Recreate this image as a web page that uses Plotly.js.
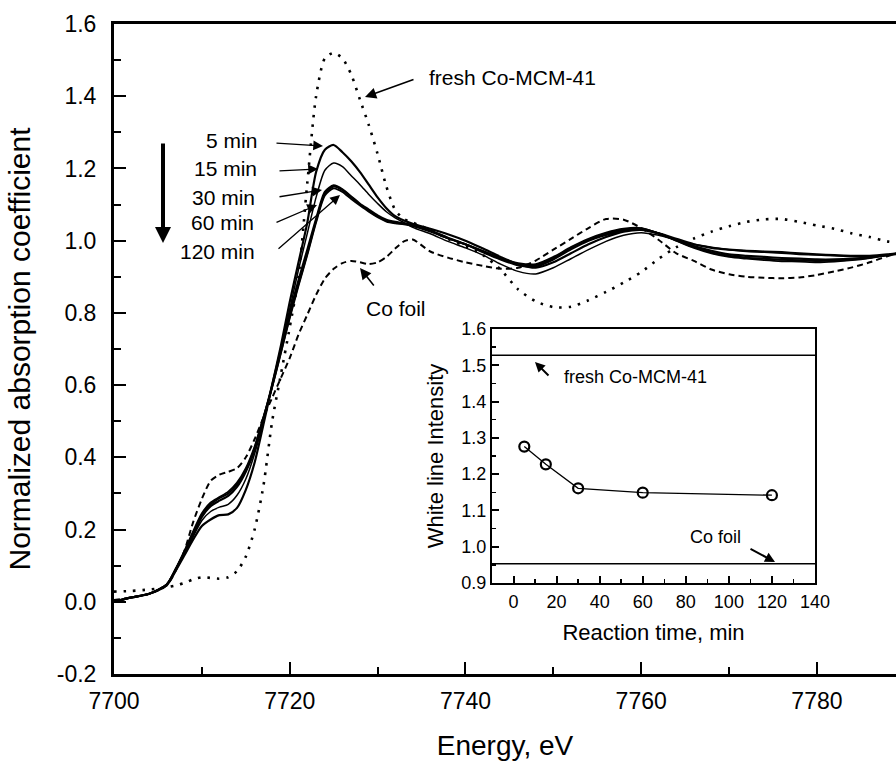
<!DOCTYPE html>
<html>
<head>
<meta charset="utf-8">
<script src="https://cdn.plot.ly/plotly-3.0.1.min.js"></script>
<style>html,body{margin:0;padding:0;background:#fff;}#chart{width:896px;height:761px;}</style>
</head>
<body>
<div id="chart"></div>
<script>
// ---------- data ----------
const energy = [7700,7702,7704,7706,7707,7708,7709,7710,7711,7712,7713,7714,7715,7716,7717,7718,7719,7720,7721,7722,7723,7724,7725,7726,7727,7728,7729,7730,7731,7732,7733,7734,7736,7738,7740,7742,7744,7746,7748,7750,7752,7754,7756,7758,7760,7762,7764,7766,7768,7770,7772,7774,7776,7778,7780,7782,7784,7786,7788,7789];

const mu5min = [0.0,0.012,0.022,0.046,0.085,0.128,0.172,0.21,0.228,0.24,0.242,0.26,0.31,0.385,0.49,0.6,0.71,0.83,0.94,1.05,1.19,1.252,1.265,1.245,1.22,1.19,1.155,1.12,1.09,1.068,1.056,1.047,1.033,1.018,1.0,0.978,0.955,0.935,0.925,0.94,0.965,0.99,1.01,1.025,1.03,1.02,1.005,0.99,0.98,0.975,0.972,0.97,0.968,0.965,0.962,0.96,0.958,0.958,0.962,0.965];
const mu15min = [0.0,0.012,0.022,0.047,0.087,0.132,0.18,0.225,0.25,0.262,0.27,0.295,0.34,0.41,0.5,0.6,0.7,0.81,0.92,1.02,1.12,1.195,1.215,1.205,1.18,1.155,1.128,1.103,1.08,1.063,1.05,1.037,1.019,0.998,0.98,0.96,0.935,0.915,0.908,0.925,0.95,0.975,0.998,1.015,1.022,1.015,1.002,0.99,0.982,0.975,0.97,0.968,0.965,0.962,0.96,0.958,0.956,0.956,0.96,0.963];
const mu30min = [0.0,0.012,0.022,0.048,0.088,0.135,0.185,0.235,0.265,0.28,0.293,0.318,0.36,0.42,0.505,0.6,0.7,0.8,0.89,0.975,1.06,1.135,1.153,1.142,1.122,1.102,1.086,1.07,1.058,1.052,1.048,1.043,1.028,1.008,0.99,0.968,0.948,0.932,0.928,0.948,0.976,1.0,1.016,1.028,1.032,1.02,1.002,0.985,0.972,0.962,0.958,0.955,0.952,0.95,0.948,0.948,0.95,0.954,0.96,0.963];
const mu60min = [0.0,0.012,0.022,0.048,0.09,0.138,0.19,0.24,0.27,0.287,0.3,0.325,0.365,0.425,0.51,0.595,0.69,0.79,0.88,0.965,1.055,1.13,1.15,1.14,1.12,1.1,1.083,1.067,1.055,1.05,1.047,1.042,1.027,1.007,0.99,0.97,0.95,0.935,0.932,0.952,0.98,1.003,1.02,1.031,1.034,1.02,1.0,0.982,0.968,0.958,0.953,0.95,0.947,0.946,0.944,0.945,0.948,0.953,0.96,0.964];
const mu120min = [0.0,0.012,0.022,0.048,0.09,0.14,0.195,0.245,0.275,0.29,0.305,0.33,0.37,0.43,0.51,0.595,0.69,0.785,0.875,0.96,1.05,1.125,1.145,1.135,1.115,1.097,1.08,1.065,1.053,1.048,1.045,1.04,1.025,1.006,0.99,0.972,0.952,0.938,0.935,0.955,0.982,1.005,1.022,1.033,1.035,1.02,1.0,0.98,0.965,0.955,0.95,0.946,0.943,0.942,0.94,0.942,0.946,0.952,0.96,0.964];
const muFresh = [0.028,0.03,0.034,0.04,0.045,0.052,0.062,0.068,0.066,0.064,0.068,0.085,0.125,0.2,0.32,0.5,0.63,0.76,0.9,1.16,1.4,1.505,1.52,1.505,1.46,1.39,1.32,1.24,1.15,1.085,1.06,1.05,1.03,1.005,0.985,0.96,0.92,0.865,0.832,0.816,0.817,0.835,0.858,0.884,0.913,0.95,0.982,1.006,1.025,1.04,1.052,1.059,1.06,1.052,1.042,1.033,1.02,1.01,0.998,0.994];
const muFoil = [0.005,0.012,0.022,0.045,0.085,0.14,0.22,0.285,0.335,0.352,0.36,0.37,0.4,0.45,0.51,0.565,0.62,0.675,0.74,0.795,0.85,0.895,0.922,0.938,0.944,0.94,0.935,0.94,0.955,0.978,0.998,1.003,0.97,0.953,0.94,0.93,0.922,0.925,0.945,0.975,1.005,1.035,1.06,1.058,1.035,1.002,0.965,0.944,0.92,0.907,0.9,0.897,0.896,0.898,0.905,0.915,0.926,0.94,0.957,0.964];

const spectraNames = ['5 min','15 min','30 min','60 min','120 min'];

// inset
const reactionTime = [5, 15, 30, 60, 120];
const whiteLine = [1.276, 1.227, 1.161, 1.149, 1.142];
const refNames = ['fresh Co-MCM-41', 'Co foil'];
const refLevels = [1.528, 0.953];
const insetTimeSpan = [-10, 140];

// tick labels
const xTickVals = [7700, 7720, 7740, 7760, 7780];
const xTickText = ['7700', '7720', '7740', '7760', '7780'];
const yTickVals = [-0.2, 0.0, 0.2, 0.4, 0.6, 0.8, 1.0, 1.2, 1.4, 1.6];
const yTickText = ['-0.2', '0.0', '0.2', '0.4', '0.6', '0.8', '1.0', '1.2', '1.4', '1.6'];

// ---------- drawing ----------
const FONT = '"Liberation Sans", Arial, Helvetica, sans-serif';
const spectra = [mu5min, mu15min, mu30min, mu60min, mu120min];
const widths = [2.2, 1.5, 2.2, 2.0, 1.8];

const traces = [];
spectra.forEach((s, i) => traces.push({
  x: energy, y: s, type: 'scatter', mode: 'lines', name: spectraNames[i],
  line: {color: 'black', width: widths[i], shape: 'spline', smoothing: 0.7},
  hoverinfo: 'skip'
}));
traces.push({x: energy, y: muFresh, type: 'scatter', mode: 'lines', name: refNames[0],
  line: {color: 'black', width: 2.6, dash: '2.5px,7px', shape: 'spline', smoothing: 0.7}});
traces.push({x: energy, y: muFoil, type: 'scatter', mode: 'lines', name: refNames[1],
  line: {color: 'black', width: 2, dash: '6px,4px', shape: 'spline', smoothing: 0.7}});

// inset
refLevels.forEach((lv, i) => traces.push({
  x: insetTimeSpan, y: [lv, lv], xaxis: 'x2', yaxis: 'y2', type: 'scatter', mode: 'lines',
  name: refNames[i] + ' level', line: {color: 'black', width: 1.5}
}));
traces.push({x: reactionTime, y: whiteLine, xaxis: 'x2', yaxis: 'y2', type: 'scatter',
  mode: 'lines+markers', name: 'white line',
  line: {color: 'black', width: 1.3},
  marker: {symbol: 'circle-open', size: 10, color: 'black', line: {width: 2.2, color: 'black'}}});

// pixel -> paper helpers for annotation placement
const L = 114, R = 896, T = 24, B = 674;
const px = x => (x - L) / (R - L);
const py = y => (B - y) / (B - T);

function label(text, x, y, size, anchor) {
  return {text: text, x: px(x), y: py(y), xref: 'paper', yref: 'paper', showarrow: false,
    xanchor: anchor, yanchor: 'middle', font: {size: size, family: FONT, color: 'black'}};
}
function arrow(tipX, tipY, tailX, tailY, head, size, width) {
  return {text: '', x: px(tipX), y: py(tipY), xref: 'paper', yref: 'paper', showarrow: true,
    ax: tailX - tipX, ay: tailY - tipY, arrowhead: head, arrowsize: size, arrowwidth: width,
    arrowcolor: 'black', standoff: 0, startstandoff: 0};
}

const annotations = [
  label('5 min', 259, 140, 21, 'right'),
  label('15 min', 259, 168, 21, 'right'),
  label('30 min', 257, 197, 21, 'right'),
  label('60 min', 256, 223, 21, 'right'),
  label('120 min', 257, 251, 21, 'right'),
  arrow(323, 146, 275, 143, 2, 1.5, 1.3),
  arrow(318, 169, 278, 171, 2, 1.5, 1.3),
  arrow(322, 190, 278, 197, 2, 1.5, 1.3),
  arrow(317, 205, 275, 223, 2, 1.5, 1.3),
  arrow(340, 195, 277, 250, 2, 1.5, 1.3),
  arrow(163, 243, 163, 142, 2, 0.8, 4),
  label('fresh Co-MCM-41', 427, 77, 21, 'left'),
  arrow(365, 97, 415, 79, 2, 1.4, 1.6),
  label('Co foil', 396, 308, 21, 'center'),
  arrow(360, 268, 375, 287, 2, 1.4, 1.6),
  label('fresh Co-MCM-41', 562, 377, 18, 'left'),
  arrow(535, 362, 550, 377, 2, 1.0, 2),
  label('Co foil', 715, 537, 18, 'center'),
  arrow(775, 562, 749, 548, 2, 1.0, 2)
];

const axisCommon = {showgrid: false, zeroline: false, color: 'black', ticks: 'inside', tickcolor: 'black'};

const layout = {
  width: 896, height: 761,
  margin: {l: L, r: 896 - R, t: T, b: 761 - B, pad: 0},
  paper_bgcolor: 'white', plot_bgcolor: 'white',
  showlegend: false,
  font: {family: FONT, color: 'black'},
  xaxis: Object.assign({}, axisCommon, {
    range: [7700, 7789], tickmode: 'array', tickvals: xTickVals, ticktext: xTickText,
    ticklen: 12, tickwidth: 2, showline: true, linewidth: 3, linecolor: 'black', mirror: true,
    tickfont: {size: 23}, ticklabelstandoff: 4,
    minor: {tick0: 7700, dtick: 10, ticks: 'inside', ticklen: 7, tickwidth: 2, tickcolor: 'black'},
    title: {text: 'Energy, eV', font: {size: 28}, standoff: 28}
  }),
  yaxis: Object.assign({}, axisCommon, {
    range: [-0.2, 1.6], tickmode: 'array', tickvals: yTickVals, ticktext: yTickText,
    ticklen: 12, tickwidth: 2, showline: true, linewidth: 3, linecolor: 'black', mirror: false,
    tickfont: {size: 23}, ticklabelstandoff: 10,
    minor: {tick0: -0.2, dtick: 0.1, ticks: 'inside', ticklen: 7, tickwidth: 2, tickcolor: 'black'},
    title: {text: 'Normalized absorption coefficient', font: {size: 30}, standoff: 18}
  }),
  xaxis2: Object.assign({}, axisCommon, {
    domain: [px(492), px(815)], anchor: 'y2', range: [-10, 140], tick0: 0, dtick: 20,
    ticklen: 7, tickwidth: 2, showline: true, linewidth: 2, linecolor: 'black', mirror: true,
    tickfont: {size: 18}, ticklabelstandoff: 1,
    minor: {tick0: 0, dtick: 10, ticks: 'inside', ticklen: 4, tickwidth: 1.5, tickcolor: 'black'},
    title: {text: 'Reaction time, min', font: {size: 22}, standoff: 14}
  }),
  yaxis2: Object.assign({}, axisCommon, {
    domain: [py(583), py(329)], anchor: 'x2', range: [0.9, 1.6], tick0: 0.9, dtick: 0.1,
    tickformat: '.1f',
    ticklen: 7, tickwidth: 2, showline: true, linewidth: 2, linecolor: 'black', mirror: true,
    tickfont: {size: 18}, ticklabelstandoff: 0,
    minor: {tick0: 0.9, dtick: 0.05, ticks: 'inside', ticklen: 4, tickwidth: 1.5, tickcolor: 'black'},
    title: {text: 'White line Intensity', font: {size: 22}, standoff: 12}
  }),
  annotations: annotations
};

Plotly.newPlot('chart', traces, layout, {displayModeBar: false, staticPlot: true});
</script>
</body>
</html>
